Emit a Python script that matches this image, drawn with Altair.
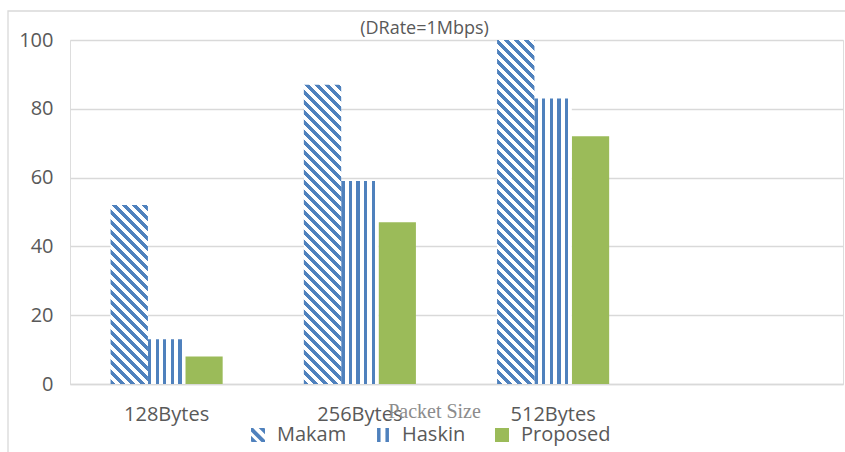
import math
import altair as alt
import pandas as pd

# ---- data -------------------------------------------------------------
categories = ["128Bytes", "256Bytes", "512Bytes"]
x_domain = categories + [" "]          # empty fourth slot on the axis
series = ["Makam", "Haskin", "Proposed"]
makam = [52, 87, 100]
haskin = [13, 59, 83]
proposed = [8, 47, 72]

rows = []
for name, vals in zip(series, [makam, haskin, proposed]):
    for cat, v in zip(categories, vals):
        rows.append({"category": cat, "series": name, "value": v})
df = pd.DataFrame(rows)

# ---- style ------------------------------------------------------------
BLUE = "#4F81BD"
GREEN = "#9BBB59"
WHITE = "#FFFFFF"
GRID = "#D9D9D9"
TEXT = "#595959"
FONT = "Open Sans"

W, H = 773, 344
Y_MAX = 100
PAD_IN, PAD_OUT = 0.42, 0.21
STEP = W / (len(x_domain) - PAD_IN + 2 * PAD_OUT)
BAR_W = STEP * (1 - PAD_IN) / len(series)
DIAG_PERIOD = 10.0    # stripe repeat along the diagonal hatch
VERT_PERIOD = 7.6     # stripe repeat for the vertical hatch
DIAG_FRAC = 0.5
VERT_FRAC = 0.44


def stripe_stops(n_periods, frac):
    stops = []
    i = 0
    while i < n_periods:
        a = i / n_periods
        b = min((i + frac) / n_periods, 1.0)
        c = min((i + 1) / n_periods, 1.0)
        stops += [
            {"offset": round(a, 5), "color": BLUE},
            {"offset": round(b, 5), "color": BLUE},
            {"offset": round(b, 5), "color": WHITE},
            {"offset": round(c, 5), "color": WHITE},
        ]
        i += 1
    return stops


def diagonal_fill(value):
    # gradient in bounding-box units, oriented so stripes run at 45 degrees
    w = BAR_W
    h = value / Y_MAX * H
    k = (w + h) / (w * w + h * h)
    n = (w + h) / DIAG_PERIOD
    return {"gradient": "linear", "x1": 0, "y1": 1,
            "x2": round(k * w, 6), "y2": round(1 - k * h, 6),
            "stops": stripe_stops(n, DIAG_FRAC)}


def vertical_fill():
    n = BAR_W / VERT_PERIOD
    return {"gradient": "linear", "x1": 0, "y1": 0, "x2": 1, "y2": 0,
            "stops": stripe_stops(n, VERT_FRAC)}


# legend glyphs (unit square paths)
MAKAM_PATH = ("M-1,-1L-0.7,-1L1,0.7L1,1L0.5,1L-1,-0.5Z "
              "M0.1,-1L0.9,-1L1,-0.9L1,-0.1Z "
              "M-1,0.1L-0.1,1L-0.9,1L-1,0.9Z")
HASKIN_PATH = "M-0.85,-1H-0.35V1H-0.85Z M0.35,-1H0.85V1H0.35Z"
SQUARE_PATH = "M-1,-1H1V1H-1Z"

x_enc = alt.X(
    "category:N",
    scale=alt.Scale(domain=x_domain, paddingInner=PAD_IN, paddingOuter=PAD_OUT),
    axis=alt.Axis(
        title="Packet Size", titleFont="Liberation Serif", titleFontSize=20,
        titleFontWeight="normal", titleColor="#8C8C8C",
        titleX=364, titleY=33, titleBaseline="alphabetic", titleAlign="center",
        labelFont=FONT, labelFontSize=20, labelColor=TEXT, labelAngle=0,
        labelPadding=20, ticks=False, tickSize=0,
        domainColor=GRID, domainWidth=1.3, grid=False,
    ),
)
xo_enc = alt.XOffset("series:N", scale=alt.Scale(domain=series, paddingInner=0, paddingOuter=0))
y_enc = alt.Y(
    "value:Q",
    scale=alt.Scale(domain=[0, Y_MAX], nice=False),
    axis=alt.Axis(
        title=None, values=[0, 20, 40, 60, 80, 100],
        labelFont=FONT, labelFontSize=20, labelColor=TEXT, labelPadding=17,
        ticks=False, tickSize=0, domain=False,
        grid=True, gridColor=GRID, gridWidth=1.3,
    ),
)

base = alt.Chart(df)

# outer frame
frame = alt.Chart(alt.Data(values=[{"f": 1}])).mark_rect(
    fillOpacity=0, stroke=GRID, strokeWidth=1.3
).encode(
    x=alt.value(-62), x2=alt.value(1200), y=alt.value(-29), y2=alt.value(1200)
)

color_scale = alt.Scale(domain=series, range=[BLUE, BLUE, GREEN])
legend = alt.Legend(
    title=None, orient="none", legendX=178, legendY=385, direction="horizontal",
    labelFont=FONT, labelFontSize=20, labelColor=TEXT, labelOffset=9,
    symbolSize=196, symbolStrokeWidth=0, columnPadding=26, padding=0,
)

# legend carrier: no rows survive the filter, the scales give the entries
legend_layer = base.transform_filter("false").mark_point(filled=True, opacity=1).encode(
    x=x_enc, xOffset=xo_enc, y=y_enc,
    color=alt.Color("series:N", scale=color_scale, legend=legend),
    shape=alt.Shape("series:N",
                    scale=alt.Scale(domain=series, range=[MAKAM_PATH, HASKIN_PATH, SQUARE_PATH]),
                    legend=legend),
)

proposed_layer = base.transform_filter(alt.datum.series == "Proposed").mark_bar(
    fill=GREEN
).encode(x=x_enc, xOffset=xo_enc, y=y_enc)

haskin_layer = base.transform_filter(alt.datum.series == "Haskin").mark_bar(
    fill=vertical_fill()
).encode(x=x_enc, xOffset=xo_enc, y=y_enc)

makam_layers = [
    base.transform_filter(
        (alt.datum.series == "Makam") & (alt.datum.category == cat)
    ).mark_bar(fill=diagonal_fill(v)).encode(x=x_enc, xOffset=xo_enc, y=y_enc)
    for cat, v in zip(categories, makam)
]

chart = alt.layer(frame, proposed_layer, haskin_layer, *makam_layers, legend_layer).properties(
    width=W, height=H,
    padding={"left": 70, "top": 40, "right": 2, "bottom": 68},
    autosize=alt.AutoSizeParams(type="none"),
    title=alt.TitleParams(
        "(DRate=1Mbps)", font=FONT, fontSize=18, fontWeight="normal", color=TEXT,
        anchor="middle", dx=-32, dy=30, offset=2,
    ),
).configure_view(stroke=None).configure(background="white")

chart.save("out.html", embed_options={"renderer": "svg", "actions": False})
